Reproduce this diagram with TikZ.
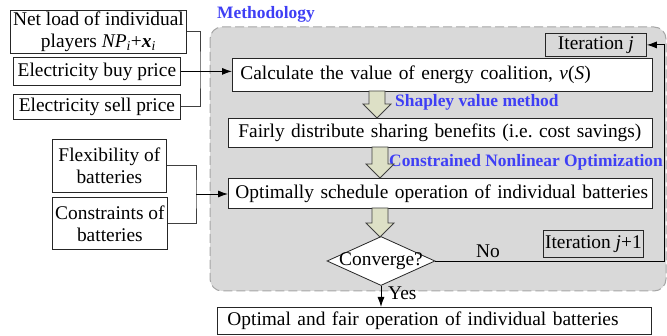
\documentclass[tikz,border=0pt]{standalone}
\usepackage{fontspec}
\setmainfont{Liberation Serif}
\usetikzlibrary{shapes.geometric,arrows.meta}
\definecolor{bgray}{HTML}{D9D9D9}
\definecolor{dgray}{HTML}{A6A6A6}
\definecolor{fatfill}{HTML}{DDE0C6}
\definecolor{lblue}{HTML}{3F3FF5}
\definecolor{lgray}{HTML}{404040}
\newcommand\fatarr[3]{%
  \draw[fat] (#1-8,#2) -- (#1+8,#2) -- (#1+8,#3-14) -- (#1+14,#3-14) -- (#1,#3)
    -- (#1-14,#3-14) -- (#1-8,#3-14) -- cycle;}
\frenchspacing
\begin{document}
\begin{tikzpicture}[x=1pt,y=-1pt,
  font=\fontsize{19.4}{22}\selectfont,
  box/.style={draw=black!85, fill=white, line width=0.8pt, inner sep=0pt,
    anchor=north west, align=center},
  lbox/.style n args={3}{box, minimum width=#1, minimum height=#2,
    inner xsep=#3, text width=#1-2*#3, align=left},
  cbox/.style n args={2}{box, minimum width=#1, minimum height=#2},
  itbox/.style={box, fill=bgray},
  conn/.style={draw=lgray, line width=0.9pt},
  arr/.style={conn, -{Latex[length=10pt,width=7pt]}, color=black},
  fat/.style={draw=lgray, fill=fatfill, line width=0.8pt},
  blue lbl/.style={font=\fontsize{17.4}{20}\selectfont\bfseries, text=lblue,
    inner sep=0pt, anchor=west}]
\useasboundingbox (0,0) rectangle (667,336);
% methodology frame
\draw[draw=dgray, fill=bgray, line width=1pt, dash pattern=on 9pt off 4pt,
  rounded corners=12pt] (210,27) rectangle (666,291);
\node[blue lbl] (meth) at (217,14) {Methodology};
% inputs
\node[cbox={176}{43}] (net) at (10,10) {Net load of individual\\players \textit{NP}\textsubscript{\textit{i}}+\textbf{\textit{x}}\textsubscript{\textit{i}}};
\node[cbox={167}{28}] (buy) at (13,57) {Electricity buy price};
\node[cbox={167}{25}] (sell) at (13,94) {Electricity sell price};
\node[cbox={114}{53}] (flex) at (52,139) {Flexibility of\\batteries};
\node[cbox={115}{52}] (cons) at (52,197) {Constraints of\\batteries};
% process boxes
\node[lbox={420}{33}{8}] (calc) at (232,58) {\mbox{Calculate the value of energy coalition, \textit{v}(\textit{S})}};
\node[lbox={424}{29}{10}] (fair) at (228,118) {\mbox{Fairly distribute sharing benefits (i.e.\ cost savings)}};
\node[lbox={424}{30}{7}] (opt) at (228,178) {\mbox{Optimally schedule operation of individual batteries}};
\node[lbox={434}{27}{10}] (final) at (217,307) {\mbox{Optimal and fair operation of individual batteries}};
\node[itbox, minimum width=101, minimum height=23] (itj) at (545,33) {Iteration \textit{j}};
\node[itbox, minimum width=100, minimum height=27] (itj1) at (543,230) {Iteration \textit{j}+1};
\node[diamond, draw=black!85, fill=white, line width=0.8pt, inner sep=0pt,
  minimum width=108, minimum height=49, label={center:Converge?}] (conv) at (381,261) {};
% labels on fat arrows
\node[blue lbl] (shap) at (395,102) {Shapley value method};
\node[blue lbl] (cno) at (389,162) {Constrained Nonlinear Optimization};
% fat arrows
\fatarr{377}{91}{118}
\fatarr{380}{147}{178}
\fatarr{380}{208}{237}
% connectors
\coordinate (b1) at (200,71);
\draw[conn] (net.east) -| (b1) |- (sell.east);
\draw[arr] (buy.east) -- (buy.east -| calc.west);
\coordinate (b2) at (196,194);
\draw[conn] (flex.east) -| (b2) |- (cons.east);
\draw[arr] (b2) -- (b2 -| opt.west);
\coordinate (nr) at (664,261);
\draw[arr] (conv.east) -- (nr) |- (itj.east);
\node (no) at (488,251) {No};
\draw[arr] (conv.south) -- (conv.south |- final.north);
\node[anchor=west, inner sep=0pt] (yes) at (388,293) {Yes};
\end{tikzpicture}
\end{document}
